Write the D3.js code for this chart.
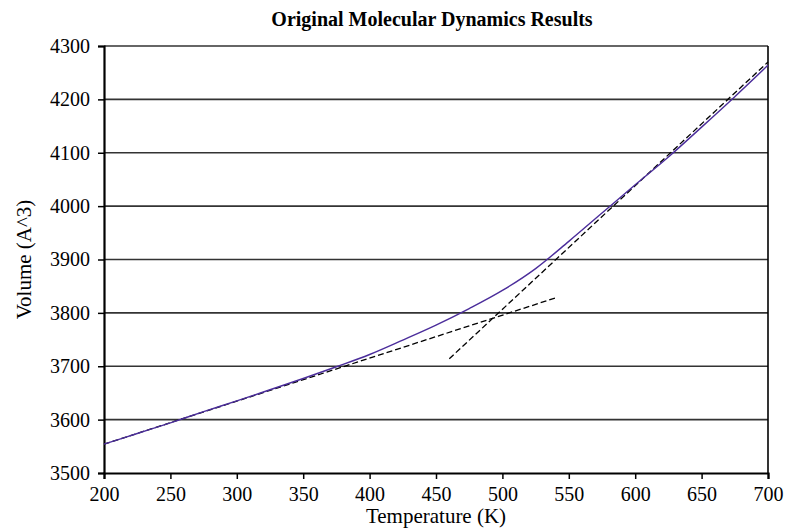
<!DOCTYPE html>
<html>
<head>
<meta charset="utf-8">
<script src="https://cdn.jsdelivr.net/npm/d3@7"></script>
<style>
  body { margin: 0; background: #fff; }
  text { font-family: "Liberation Serif", "Times New Roman", serif; fill: #000; }
</style>
</head>
<body>
<svg id="chart" width="786" height="532"></svg>
<script>
const temperatures = [200, 225, 250, 275, 300, 325, 350, 375, 400, 425, 450, 475, 500, 525, 550, 575, 600, 625, 650, 675, 700];
const volumes = [3554, 3574, 3594, 3615, 3635, 3656, 3677, 3699, 3722, 3749, 3777, 3808, 3842, 3883, 3934, 3987, 4040, 4092, 4148, 4205, 4264];
const glassFitT = [200, 540];
const glassFitV = [3554, 3828];
const meltFitT = [460, 700];
const meltFitV = [3714, 4270];
const xTicks = [200, 250, 300, 350, 400, 450, 500, 550, 600, 650, 700];
const yTicks = [3500, 3600, 3700, 3800, 3900, 4000, 4100, 4200, 4300];

const margin = { top: 46, left: 104, right: 18, bottom: 59 };
const width = 786 - margin.left - margin.right;
const height = 532 - margin.top - margin.bottom;

const svg = d3.select('#chart');
const plot = svg.append('g').attr('transform', `translate(${margin.left},${margin.top})`);

const scaleX = d3.scaleLinear().domain([200, 700]).range([0, width]);
const scaleY = d3.scaleLinear().domain([3500, 4300]).range([height, 0]);

// gridlines
plot.append('g')
  .selectAll('line')
  .data(yTicks.slice(1))
  .enter().append('line')
  .attr('x1', 0)
  .attr('x2', width)
  .attr('y1', d => scaleY(d))
  .attr('y2', d => scaleY(d))
  .attr('stroke', '#333')
  .attr('stroke-width', 1.6);

plot.append('line')
  .attr('x1', width).attr('x2', width)
  .attr('y1', 0).attr('y2', height)
  .attr('stroke', '#000')
  .attr('stroke-width', 1.6);

const yAxis = plot.append('g')
  .call(d3.axisLeft(scaleY).tickValues(yTicks).tickFormat(d3.format('d')).tickSize(6).tickPadding(8));
const xAxis = plot.append('g')
  .attr('transform', `translate(0,${height})`)
  .call(d3.axisBottom(scaleX).tickValues(xTicks).tickFormat(d3.format('d')).tickSize(6).tickPadding(8));

[xAxis, yAxis].forEach(axis => {
  axis.select('.domain').attr('stroke', '#000').attr('stroke-width', 2.2);
  axis.selectAll('.tick line').attr('stroke', '#000').attr('stroke-width', 1.5);
  axis.selectAll('.tick text')
    .attr('font-family', '"Liberation Serif", "Times New Roman", serif')
    .attr('font-size', 20)
    .attr('fill', '#000');
});

const line = d3.line()
  .x(d => scaleX(d[0]))
  .y(d => scaleY(d[1]));

const drawFit = (ts, vs) => {
  plot.append('path')
    .datum(d3.zip(ts, vs))
    .attr('d', line)
    .attr('fill', 'none')
    .attr('stroke', '#000')
    .attr('stroke-width', 1.3)
    .attr('stroke-dasharray', '6,3');
};
drawFit(glassFitT, glassFitV);
drawFit(meltFitT, meltFitV);

plot.append('path')
  .datum(d3.zip(temperatures, volumes))
  .attr('d', line.curve(d3.curveMonotoneX))
  .attr('fill', 'none')
  .attr('stroke', '#4b2d9b')
  .attr('stroke-width', 1.4);

svg.append('text')
  .attr('x', 432)
  .attr('y', 26)
  .attr('text-anchor', 'middle')
  .attr('font-size', 20)
  .attr('font-weight', 'bold')
  .text('Original Molecular Dynamics Results');

svg.append('text')
  .attr('x', margin.left + width / 2)
  .attr('y', 523)
  .attr('text-anchor', 'middle')
  .attr('font-size', 21)
  .text('Temperature (K)');

svg.append('text')
  .attr('transform', `translate(31,${margin.top + height / 2}) rotate(-90)`)
  .attr('text-anchor', 'middle')
  .attr('font-size', 21)
  .text('Volume (A^3)');
</script>
</body>
</html>
